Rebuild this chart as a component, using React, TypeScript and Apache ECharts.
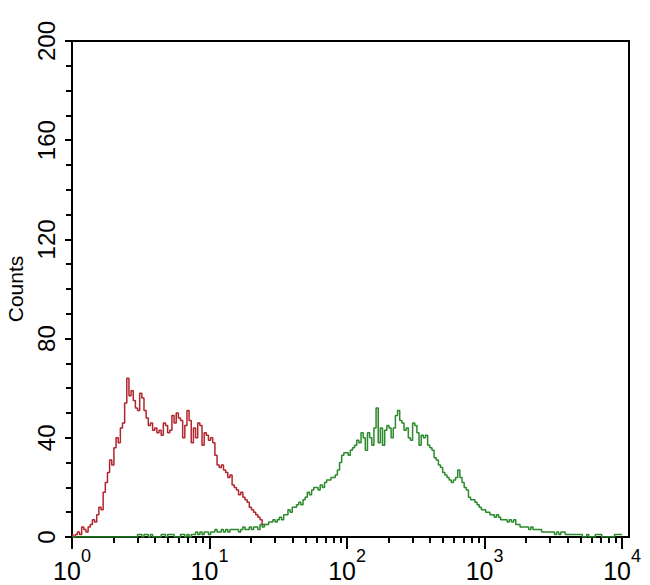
import React, { useEffect, useRef } from "react";
import * as echarts from "echarts";

// Histogram channels: 64 channels per decade, 4 decades (10^0 .. 10^4)
const CHANNELS_PER_DECADE = 64;
const DECADE_EXPONENTS = [0, 1, 2, 3, 4];
const MINOR_MULTIPLIERS = [2, 3, 4, 5, 6, 7, 8, 9];
const Y_TICKS = [0, 40, 80, 120, 160, 200];

// Red (control) histogram counts, channel 0..90
const redCounts = [
  1, 0, 1, 2, 1, 4, 3, 2, 4, 5,
  7, 6, 9, 12, 11, 18, 22, 26, 31, 29,
  36, 40, 38, 44, 46, 54, 64, 57, 59, 55,
  52, 51, 58, 56, 51, 48, 45, 46, 43, 44,
  42, 43, 41, 46, 45, 42, 43, 49, 46, 50,
  48, 47, 40, 45, 51, 47, 38, 44, 40, 46,
  45, 37, 42, 41, 39, 40, 38, 33, 29, 28,
  29, 27, 26, 24, 25, 21, 20, 19, 17, 18,
  16, 15, 14, 12, 11, 10, 9, 8, 7, 5,
  5,
];

// Green (stained) histogram counts, channel 0..256
const greenCounts = [
  0, 0, 0, 0, 0, 0, 0, 0, 0, 0,
  0, 0, 0, 0, 0, 0, 0, 0, 0, 0,
  0, 0, 0, 0, 0, 0, 0, 0, 0, 0,
  0, 1, 1, 0, 1, 1, 0, 1, 0, 0,
  0, 0, 1, 1, 0, 1, 1, 1, 0, 0,
  0, 1, 1, 0, 1, 0, 1, 1, 2, 1,
  2, 1, 2, 2, 1, 2, 2, 3, 2, 2,
  3, 2, 3, 2, 3, 3, 3, 3, 2, 3,
  4, 3, 3, 4, 3, 4, 4, 3, 5, 4,
  5, 5, 6, 6, 7, 6, 7, 8, 7, 9,
  9, 11, 10, 12, 12, 13, 14, 13, 15, 16,
  18, 17, 19, 20, 20, 19, 21, 20, 22, 23,
  23, 24, 24, 25, 27, 30, 33, 34, 34, 33,
  35, 36, 37, 39, 38, 42, 40, 35, 42, 40,
  37, 44, 52, 38, 44, 37, 43, 45, 44, 40,
  44, 49, 51, 47, 46, 43, 44, 40, 39, 46,
  45, 42, 37, 41, 40, 41, 37, 36, 35, 32,
  31, 29, 28, 26, 25, 24, 23, 22, 23, 24,
  27, 24, 22, 20, 19, 16, 15, 15, 14, 13,
  12, 11, 11, 10, 10, 9, 9, 8, 9, 8,
  7, 7, 7, 6, 7, 6, 7, 5, 5, 4,
  4, 4, 4, 3, 4, 3, 3, 3, 3, 2,
  2, 2, 2, 2, 2, 1, 2, 1, 2, 2,
  1, 1, 1, 1, 1, 1, 1, 1, 0, 0,
  1, 0, 0, 0, 1, 1, 1, 0, 0, 0,
  0, 0, 0, 1, 1, 1, 1,
];

const FONT = "'Liberation Sans', Arial, Helvetica, sans-serif";

export default function App() {
  const ref = useRef<HTMLDivElement>(null);

  useEffect(() => {
    if (!ref.current) return;
    const chart = echarts.init(ref.current, undefined, { renderer: "svg" });

    const toPoints = (arr: number[]) =>
      arr.map((v, i) => [i / CHANNELS_PER_DECADE, v]);

    const minorTicks: number[] = [];
    for (let d = 0; d < DECADE_EXPONENTS.length - 1; d++) {
      for (const m of MINOR_MULTIPLIERS) minorTicks.push(DECADE_EXPONENTS[d] + Math.log10(m));
    }

    const black = { color: "#000", width: 2 };

    const option: any = {
      animation: false,
      backgroundColor: "#fff",
      grid: {
        left: 72,
        right: 21,
        top: 41,
        bottom: 48,
        show: true,
        borderColor: "#000",
        borderWidth: 2,
        backgroundColor: "transparent",
        containLabel: false,
        outerBoundsMode: "none",
      },
      xAxis: [
        {
          type: "value",
          min: 0,
          max: 4.05,
          position: "bottom",
          axisLine: { show: true, lineStyle: black },
          axisTick: { show: true, customValues: DECADE_EXPONENTS, length: 12, lineStyle: black },
          axisLabel: {
            customValues: DECADE_EXPONENTS,
            margin: 10,
            color: "#000",
            formatter: (v: number) => `{b|10}{s|${Math.round(v)}}`,
            rich: {
              b: { fontSize: 25, lineHeight: 48, fontFamily: FONT, color: "#000" },
              s: { fontSize: 18, lineHeight: 18, verticalAlign: "top", fontFamily: FONT, color: "#000" },
            },
          },
          splitLine: { show: false },
        },
        {
          type: "value",
          min: 0,
          max: 4.05,
          position: "bottom",
          axisLine: { show: false },
          axisTick: { show: true, customValues: minorTicks, length: 6, lineStyle: black },
          axisLabel: { show: false },
          splitLine: { show: false },
        },
      ],
      yAxis: {
        type: "value",
        min: Y_TICKS[0],
        max: Y_TICKS[Y_TICKS.length - 1],
        interval: 40,
        name: "Counts",
        nameLocation: "middle",
        nameGap: 46,
        nameRotate: 90,
        nameTextStyle: { fontSize: 21, color: "#000", fontFamily: FONT },
        axisLine: { show: true, lineStyle: black },
        axisTick: { show: true, length: 7, lineStyle: black },
        minorTick: { show: true, splitNumber: 4, length: 6, lineStyle: black },
        axisLabel: { rotate: 90, fontSize: 24, margin: 14, color: "#000", fontFamily: FONT },
        splitLine: { show: false },
      },
      series: [
        {
          type: "line",
          xAxisIndex: 0,
          data: toPoints(redCounts),
          step: "middle",
          showSymbol: false,
          lineStyle: { color: "#b0262c", width: 1.5 },
          itemStyle: { color: "#b0262c" },
          z: 2,
        },
        {
          type: "line",
          xAxisIndex: 0,
          data: toPoints(greenCounts),
          step: "middle",
          showSymbol: false,
          lineStyle: { color: "#2b8a2b", width: 1.5 },
          itemStyle: { color: "#2b8a2b" },
          z: 3,
        },
      ],
    };

    chart.setOption(option);
    return () => chart.dispose();
  }, []);

  return (
    <div
      ref={ref}
      style={{ position: "fixed", left: 0, top: 0, width: 650, height: 585, background: "#fff" }}
    />
  );
}
